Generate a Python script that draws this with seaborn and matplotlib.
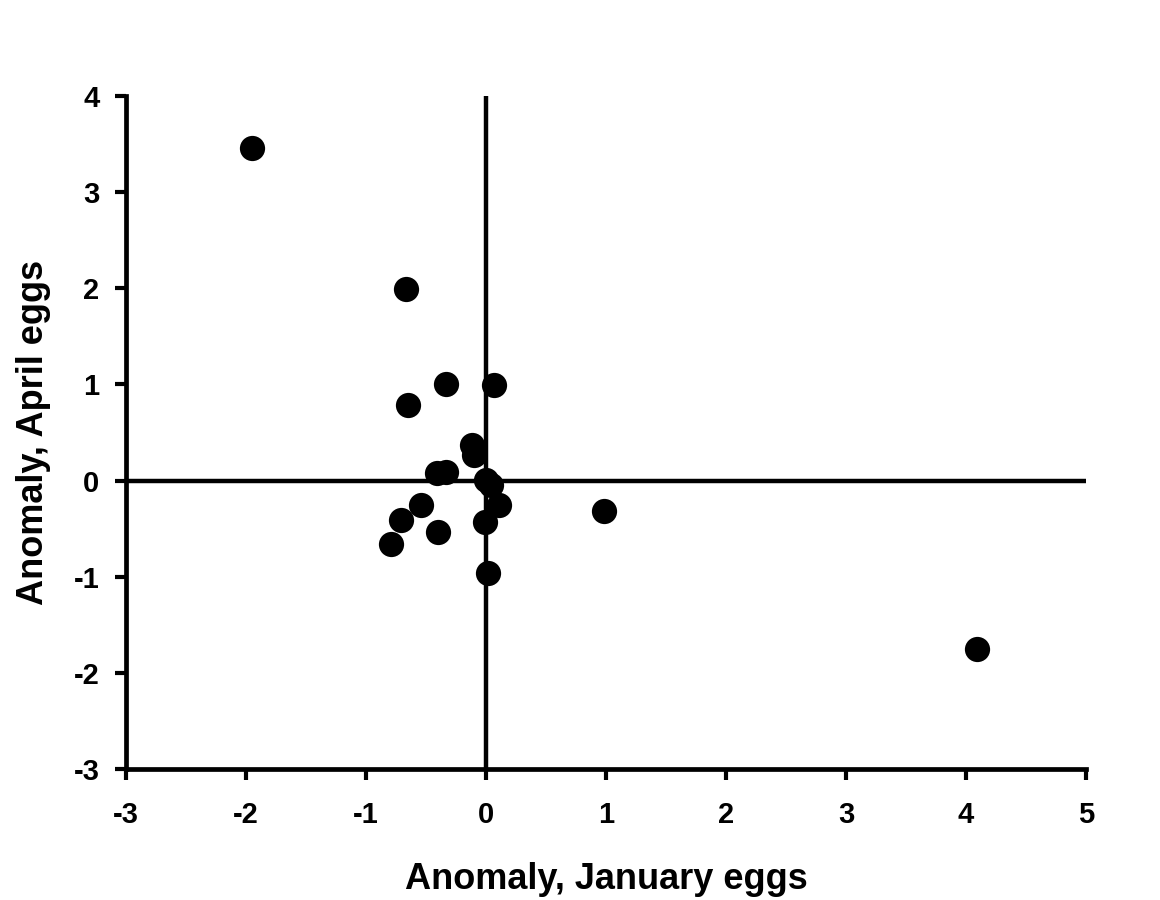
import numpy as np
import pandas as pd
import matplotlib
matplotlib.use('Agg')
import matplotlib.pyplot as plt
import seaborn as sns

jan_anomaly = [-1.95, -0.67, -0.33, 0.065, -0.65, -0.115, -0.10, -0.41, -0.33, 0.0,
               0.04, 0.11, -0.54, -0.705, -0.40, -0.79, -0.01, 0.02, 0.98, 4.09]
apr_anomaly = [3.46, 1.99, 1.00, 0.99, 0.79, 0.37, 0.27, 0.075, 0.09, 0.005,
               -0.05, -0.25, -0.25, -0.41, -0.53, -0.66, -0.43, -0.96, -0.32, -1.75]
x_ticks = [-3, -2, -1, 0, 1, 2, 3, 4, 5]
y_ticks = [-3, -2, -1, 0, 1, 2, 3, 4]

df = pd.DataFrame({'jan': jan_anomaly, 'apr': apr_anomaly})

sns.set_style('ticks')
plt.rcParams['font.family'] = ['Liberation Sans', 'DejaVu Sans']
plt.rcParams['font.weight'] = 'bold'
plt.rcParams['text.color'] = 'black'
plt.rcParams['axes.labelcolor'] = 'black'
plt.rcParams['xtick.color'] = 'black'
plt.rcParams['ytick.color'] = 'black'

fig = plt.figure(figsize=(11.6, 9), dpi=100)
ax = fig.add_axes([0.1086, 0.1456, 0.8276, 0.7477])

ax.axhline(0, color='black', lw=3.2, zorder=1)
ax.axvline(0, color='black', lw=3.2, zorder=1)

sns.scatterplot(data=df, x='jan', y='apr', ax=ax, s=330, color='black',
                edgecolor='black', linewidth=0, zorder=3)

ax.set_xlim(-3, 5)
ax.set_ylim(-3, 4)
ax.set_xticks(x_ticks)
ax.set_yticks(y_ticks)
ax.set_xticklabels([str(t) for t in x_ticks], fontsize=21, fontweight='bold')
ax.set_yticklabels([str(t) for t in y_ticks], fontsize=21, fontweight='bold')
ax.tick_params(axis='x', direction='out', length=8, width=3, pad=15)
ax.tick_params(axis='y', direction='out', length=8, width=3, pad=11)

for side in ['top', 'right']:
    ax.spines[side].set_visible(False)
for side in ['left', 'bottom']:
    ax.spines[side].set_linewidth(3.4)
    ax.spines[side].set_color('black')

ax.set_xlabel('Anomaly, January eggs', fontsize=26, fontweight='bold', labelpad=24)
ax.set_ylabel('Anomaly, April eggs', fontsize=26, fontweight='bold', labelpad=16)

fig.savefig('out.png', dpi=100, facecolor='white')
